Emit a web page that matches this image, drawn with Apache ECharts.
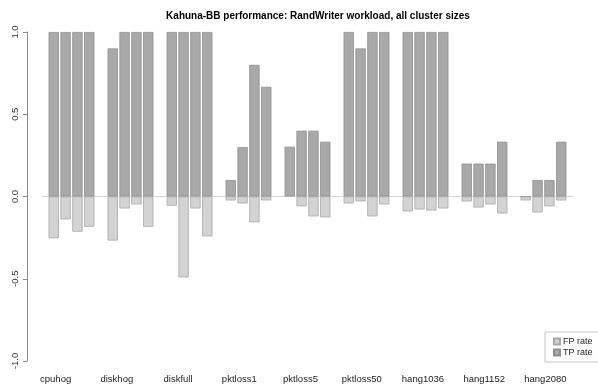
<!DOCTYPE html>
<html>
<head>
<meta charset="utf-8">
<script src="https://cdn.jsdelivr.net/npm/echarts@6/dist/echarts.min.js"></script>
<style>
  html, body { margin: 0; padding: 0; background: #fff; }
  #chart { width: 598px; height: 391px; }
</style>
</head>
<body>
<div id="chart"></div>
<script>
// Fault types, one group of bars each
const faults = ['cpuhog', 'diskhog', 'diskfull', 'pktloss1', 'pktloss5', 'pktloss50', 'hang1036', 'hang1152', 'hang2080'];

// True-positive rate for each of the four cluster sizes
const tpSize1 = [1, 0.9, 1, 0.1, 0.3, 1, 1, 0.2, 0];
const tpSize2 = [1, 1, 1, 0.3, 0.4, 0.9, 1, 0.2, 0.1];
const tpSize3 = [1, 1, 1, 0.8, 0.4, 1, 1, 0.2, 0.1];
const tpSize4 = [1, 1, 1, 0.667, 0.333, 1, 1, 0.333, 0.333];

// False-positive rate for each of the four cluster sizes (drawn below zero)
const fpSize1 = [0.254, 0.268, 0.056, 0.024, 0, 0.042, 0.091, 0.03, 0.024];
const fpSize2 = [0.139, 0.073, 0.492, 0.042, 0.06, 0.03, 0.079, 0.067, 0.097];
const fpSize3 = [0.214, 0.048, 0.073, 0.157, 0.121, 0.121, 0.085, 0.048, 0.06];
const fpSize4 = [0.184, 0.184, 0.242, 0.024, 0.127, 0.048, 0.073, 0.103, 0.024];

// Y-axis tick values
const yTicks = [-1, -0.5, 0, 0.5, 1];

const FONT = 'Liberation Sans, Arial, Helvetica, sans-serif';
const TP_COLOR = '#a9a9a9', TP_BORDER = '#8e8e8e';
const FP_COLOR = '#d3d3d3', FP_BORDER = '#a8a8a8';

const tpSets = [tpSize1, tpSize2, tpSize3, tpSize4];
const fpSets = [fpSize1, fpSize2, fpSize3, fpSize4];

const series = [];
tpSets.forEach((vals, i) => {
  series.push({
    name: 'TP rate', type: 'bar', stack: 'size' + i,
    xAxisIndex: 0, yAxisIndex: 0,
    barWidth: 10.3, barGap: '15%',
    itemStyle: { color: TP_COLOR, borderColor: TP_BORDER, borderWidth: 0.8 },
    data: vals,
    z: 3,
    markLine: i === 0 ? {
      silent: true, symbol: 'none', label: { show: false },
      lineStyle: { color: '#d2d2d2', width: 1, type: 'solid' },
      data: [{ yAxis: 0 }],
      z: 1
    } : undefined
  });
});
fpSets.forEach((vals, i) => {
  series.push({
    name: 'FP rate', type: 'bar', stack: 'size' + i,
    xAxisIndex: 0, yAxisIndex: 0,
    barWidth: 10.3, barGap: '15%',
    itemStyle: { color: FP_COLOR, borderColor: FP_BORDER, borderWidth: 0.8 },
    data: vals.map(v => -v),
    z: 3
  });
});

const chart = echarts.init(document.getElementById('chart'), null, { renderer: 'canvas' });
chart.setOption({
  animation: false,
  backgroundColor: '#fff',
  textStyle: { fontFamily: FONT },
  title: {
    text: 'Kahuna-BB performance: RandWriter workload, all cluster sizes',
    left: 313, top: 6, textAlign: 'center',
    textStyle: { fontFamily: FONT, fontSize: 10, fontWeight: 'bold', color: '#000' }
  },
  legend: {
    data: ['FP rate', 'TP rate'],
    orient: 'vertical',
    left: 545, top: 332,
    padding: [4, 16, 4, 8],
    itemGap: 0,
    itemWidth: 6, itemHeight: 6,
    icon: 'rect',
    borderColor: '#c4c4c4', borderWidth: 1,
    textStyle: { fontFamily: FONT, fontSize: 9, color: '#222', lineHeight: 11, padding: [0, 0, 0, -2] },
    selectedMode: false
  },
  grid: [
    { left: 42, right: 25, top: 32, bottom: 30 },
    { left: 25, right: 22, top: 32, bottom: 30 }
  ],
  xAxis: [
    {
      type: 'category', gridIndex: 0, data: faults,
      axisLine: { show: false }, axisTick: { show: false }, axisLabel: { show: false }
    },
    {
      type: 'category', gridIndex: 1, data: faults,
      axisLine: { show: false }, axisTick: { show: false },
      axisLabel: { fontFamily: FONT, fontSize: 9.5, color: '#222', margin: 13 }
    }
  ],
  yAxis: [
    {
      type: 'value', gridIndex: 0, min: yTicks[0], max: yTicks[yTicks.length - 1], interval: 0.5,
      offset: 15,
      axisLine: { show: true, lineStyle: { color: '#8a8a8a', width: 1 } },
      axisTick: { show: true, length: 4, lineStyle: { color: '#8a8a8a' } },
      splitLine: { show: false },
      axisLabel: {
        rotate: 90, margin: 7, fontFamily: FONT, fontSize: 9.5, color: '#333',
        formatter: v => v.toFixed(1)
      }
    },
    {
      type: 'value', gridIndex: 1, min: -1, max: 1, show: false
    }
  ],
  series: series
});
</script>
</body>
</html>
